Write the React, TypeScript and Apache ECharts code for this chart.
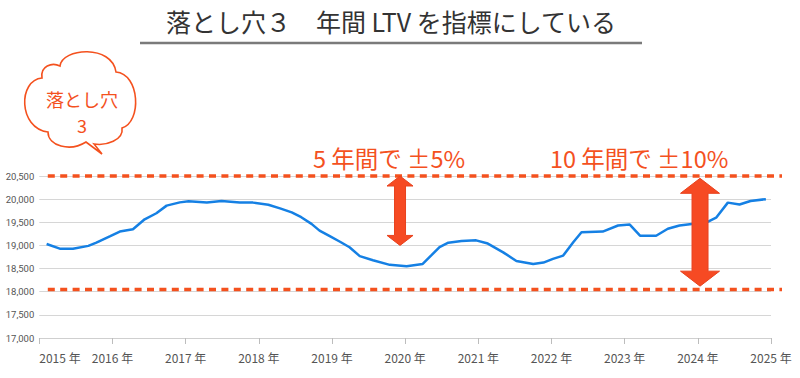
import React, { useEffect, useRef } from "react";
import * as echarts from "echarts";

// ---- data ----
const yearTicks = [2015, 2016, 2017, 2018, 2019, 2020, 2021, 2022, 2023, 2024, 2025];
const yTickValues = [17000, 17500, 18000, 18500, 19000, 19500, 20000, 20500];

const yearPoints = [
  2015.10, 2015.28, 2015.46, 2015.67, 2015.78, 2015.97, 2016.10, 2016.28, 2016.44, 2016.60,
  2016.74, 2016.92, 2017.04, 2017.29, 2017.49, 2017.74, 2017.92, 2018.13, 2018.29, 2018.45,
  2018.58, 2018.72, 2018.83, 2018.97, 2019.11, 2019.24, 2019.38, 2019.56, 2019.79, 2020.02,
  2020.24, 2020.36, 2020.47, 2020.59, 2020.77, 2020.97, 2021.13, 2021.34, 2021.52, 2021.75,
  2021.89, 2022.02, 2022.16, 2022.30, 2022.41, 2022.70, 2022.91, 2023.07, 2023.21, 2023.43,
  2023.59, 2023.75, 2023.89, 2024.12, 2024.25, 2024.41, 2024.57, 2024.72, 2024.93,
];
const ltvValues = [
  19030, 18930, 18930, 18990, 19060, 19200, 19300, 19350, 19565, 19695,
  19860, 19930, 19955, 19925, 19960, 19925, 19925, 19880, 19800, 19715,
  19610, 19465, 19320, 19200, 19080, 18960, 18770, 18680, 18580, 18550,
  18600, 18790, 18965, 19060, 19095, 19110, 19040, 18850, 18665, 18600,
  18630, 18710, 18780, 19075, 19285, 19300, 19430, 19450, 19210, 19210,
  19360, 19430, 19460, 19500, 19600, 19925, 19885, 19960, 20000,
];

// band levels (dashed red lines)
const bandLevels = [20500, 18050];
// double arrows: year, top value, bottom value
const arrowYears = [2019.93, 2024.03];
const arrowTops = [20500, 20450];
const arrowBottoms = [19000, 18120];

const titleText = "落とし穴３　年間 LTV を指標にしている";
const bubbleText = "落とし穴\n3";
const annotationTexts = ["5 年間で ±5%", "10 年間で ±10%"];

const RED = "#f4511e";
const FONT = "'Noto Sans CJK JP', 'Noto Sans', sans-serif";

const cloudPath =
  "M 60 66 C 62 48, 112 44, 116 72 C 140 74, 142 122, 122 128 C 124 140, 106 146, 94 144 L 102 154 L 86 142 C 70 152, 48 146, 48 132 C 18 128, 18 80, 42 78 C 40 66, 52 62, 60 66 Z";

try {
  echarts.graphic.registerShape("cloudBubble", echarts.graphic.extendPath(cloudPath, {}) as any);
} catch (e) {}

export default function App() {
  const ref = useRef<HTMLDivElement>(null);
  useEffect(() => {
    document.body.style.margin = "0";
    const el = ref.current!;
    const chart = echarts.init(el, null, { renderer: "svg" });
    const yMin = yTickValues[0];
    const yMax = yTickValues[yTickValues.length - 1];
    chart.setOption({
      animation: false,
      grid: { left: 39.3, right: 29, top: 176, bottom: 40, containLabel: false },
      xAxis: {
        type: "value",
        min: yearTicks[0],
        max: yearTicks[yearTicks.length - 1],
        interval: 1,
        splitLine: { show: false },
        axisLine: { show: true, lineStyle: { color: "#cfcfcf", width: 1 } },
        axisTick: { show: true, length: 6, lineStyle: { color: "#bdbdbd" } },
        axisLabel: {
          margin: 13,
          fontSize: 12,
          color: "#555",
          fontFamily: FONT,
          alignMinLabel: "left",
          formatter: (v: number) => `${v} 年`,
        },
      },
      yAxis: {
        type: "value",
        min: yMin,
        max: yMax,
        interval: 500,
        axisLine: { show: false },
        axisTick: { show: false },
        splitLine: { lineStyle: { color: "#d6d6d6", width: 1 } },
        axisLabel: {
          margin: 5,
          fontSize: 9.5,
          color: "#555",
          fontFamily: "Roboto, sans-serif",
          formatter: (v: number) => v.toLocaleString("en-US"),
        },
      },
      series: [
        {
          type: "line",
          data: yearPoints.map((x, i) => [x, ltvValues[i]]),
          showSymbol: false,
          symbol: "none",
          lineStyle: { color: "#1580e4", width: 2.5 },
          z: 3,
        },
      ],
    });

    const px = (x: number, y: number) => chart.convertToPixel({ gridIndex: 0 }, [x, y]) as number[];
    const graphics: any[] = [];

    graphics.push({
      type: "text",
      x: 391,
      y: 21,
      style: {
        text: titleText,
        fontSize: 25,
        fill: "#333",
        fontFamily: FONT,
        align: "center",
        verticalAlign: "middle",
      },
    });
    graphics.push({
      type: "line",
      shape: { x1: 140, y1: 43, x2: 642, y2: 43 },
      style: { stroke: "#7a7a7a", lineWidth: 2.5 },
    });

    graphics.push({
      type: "cloudBubble",
      x: 0,
      y: 0,
      style: { fill: "#fff", stroke: RED, lineWidth: 1.6 },
    });
    graphics.push({
      type: "text",
      x: 82,
      y: 112,
      style: {
        text: bubbleText,
        fontSize: 18,
        lineHeight: 26,
        fill: RED,
        fontFamily: FONT,
        align: "center",
        verticalAlign: "middle",
      },
    });

    const bandStartX = px(yearTicks[0], yMin)[0] + 8.5;
    const bandEndX = px(yearTicks[yearTicks.length - 1], yMin)[0] + 11;
    bandLevels.forEach((lv) => {
      const y = px(yearTicks[0], lv)[1];
      graphics.push({
        type: "line",
        shape: { x1: bandStartX, y1: y, x2: bandEndX, y2: y },
        style: { stroke: RED, lineWidth: 3.5, lineDash: [7, 5.4] },
        z: 10,
      });
    });

    const arrowDims = [
      { sw: 5.5, hw: 13, hh: 10 },
      { sw: 8, hw: 19.5, hh: 15 },
    ];
    arrowYears.forEach((yr, i) => {
      const [cx, ty] = px(yr, arrowTops[i]);
      const by = px(yr, arrowBottoms[i])[1];
      const { sw, hw, hh } = arrowDims[i];
      graphics.push({
        type: "polygon",
        shape: {
          points: [
            [cx, ty],
            [cx + hw, ty + hh],
            [cx + sw, ty + hh],
            [cx + sw, by - hh],
            [cx + hw, by - hh],
            [cx, by],
            [cx - hw, by - hh],
            [cx - sw, by - hh],
            [cx - sw, ty + hh],
            [cx - hw, ty + hh],
          ],
        },
        style: { fill: "#f64a23", stroke: "#e8431f", lineWidth: 1 },
        z: 11,
      });
    });

    const textLefts = [313, 550];
    annotationTexts.forEach((t, i) => {
      graphics.push({
        type: "text",
        x: textLefts[i],
        y: 158,
        style: {
          text: t,
          fontSize: 23.5,
          fill: RED,
          fontFamily: FONT,
          align: "left",
          verticalAlign: "middle",
        },
        z: 12,
      });
    });

    chart.setOption({ graphic: graphics });
    return () => chart.dispose();
  }, []);
  return <div ref={ref} style={{ width: 800, height: 378 }} />;
}
